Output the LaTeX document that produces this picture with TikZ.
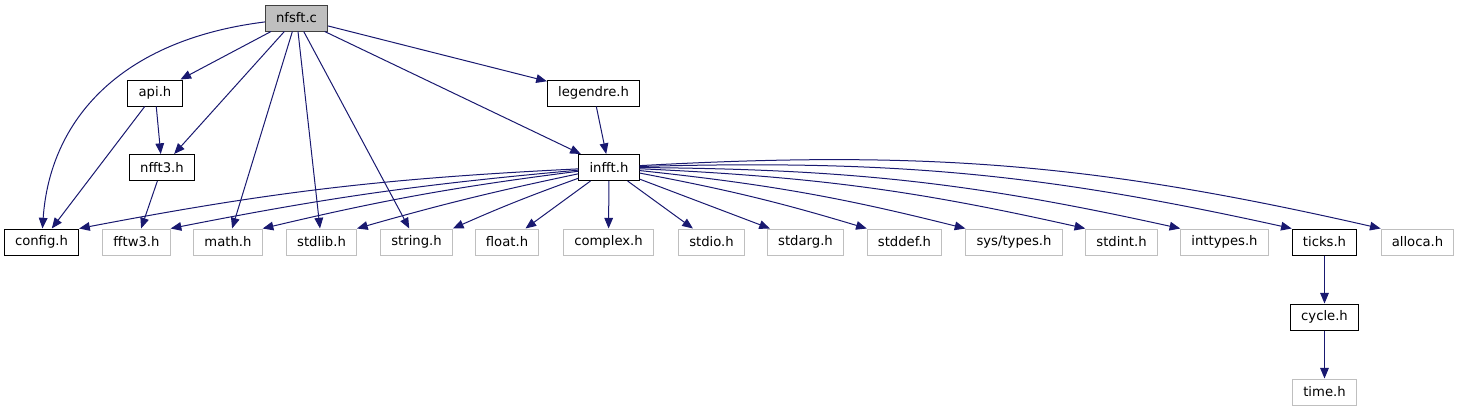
\documentclass[tikz,border=0pt]{standalone}
\usepackage{fontspec}
\setmainfont{DejaVu Sans}
\usetikzlibrary{arrows.meta}
\definecolor{Edge}{HTML}{191970}
\definecolor{Frame}{HTML}{BFBFBF}
\definecolor{Dark}{HTML}{404040}

\begin{document}
\begin{tikzpicture}[x=0.75pt,y=-0.75pt,
  hdr/.style={draw=black,fill=white,line width=0.75pt,minimum height=19.5pt,inner xsep=8pt,inner ysep=0pt,font=\fontsize{9.9}{11}\selectfont},
  sys/.style={hdr,draw=Frame},
  root/.style={hdr,draw=Dark,fill=Frame},
  inc/.style={-{Triangle[length=8pt,width=6.5pt]},color=Edge,line width=0.75pt}
]
\useasboundingbox (0,0) rectangle (1460,411);
% top levels
\node[root] (nfsft) at (296.5,18) {nfsft.c};
\node[hdr] (api) at (155,93) {api.h};
\node[hdr] (legendre) at (593.5,93) {legendre.h};
\node[hdr] (nfft3) at (162,167.5) {nfft3.h};
\node[hdr] (infft) at (609,167.5) {infft.h};
% bottom row
\node[hdr] (config) at (41.5,242) {config.h};
\node[sys] (fftw3) at (136.5,242) {fftw3.h};
\node[sys] (math) at (228,242) {math.h};
\node[sys] (stdlib) at (321.5,242) {stdlib.h};
\node[sys] (string) at (416.5,242) {string.h};
\node[sys] (float) at (507,242) {float.h};
\node[sys] (complex) at (608.5,242) {complex.h};
\node[sys] (stdio) at (711.5,242) {stdio.h};
\node[sys] (stdarg) at (805.5,242) {stdarg.h};
\node[sys] (stddef) at (904.5,242) {stddef.h};
\node[sys] (systypes) at (1014,242) {sys/types.h};
\node[sys] (stdint) at (1121.5,242) {stdint.h};
\node[sys] (inttypes) at (1224.5,242) {inttypes.h};
\node[hdr] (ticks) at (1324.5,242) {ticks.h};
\node[sys] (alloca) at (1417.5,242) {alloca.h};
\node[hdr] (cycle) at (1324.5,317) {cycle.h};
\node[sys] (time) at (1324.5,392) {time.h};
% includes of nfsft.c
\draw[inc] (nfsft) .. controls (120,40) and (50,120) .. (config);
\foreach \t in {api,nfft3,math,stdlib,string,legendre,infft}\draw[inc] (nfsft)--(\t);
\draw[inc] (api)--(config); \draw[inc] (api)--(nfft3);
\draw[inc] (nfft3)--(fftw3); \draw[inc] (legendre)--(infft);
% includes of infft.h
\draw[inc] (infft) to[bend right=4] (config.north east);
\draw[inc] (infft) to[bend right=3] (fftw3.north east);
\draw[inc] (infft) to[bend right=3] (math.north east);
\draw[inc] (infft) to[bend right=2] (stdlib.north east);
\draw[inc] (infft) to[bend right=2] (string.north east);
\foreach \t in {float,complex,stdio,stdarg}\draw[inc] (infft)--(\t);
\draw[inc] (infft) to[bend left=3] (stddef.north west);
\draw[inc] (infft) to[bend left=4] (systypes.north west);
\draw[inc] (infft) to[bend left=5] (stdint.north west);
\draw[inc] (infft) to[bend left=6] (inttypes.north west);
\draw[inc] (infft) to[bend left=7] (ticks.north west);
\draw[inc] (infft) to[bend left=8] (alloca.north west);
\draw[inc] (ticks)--(cycle); \draw[inc] (cycle)--(time);
\end{tikzpicture}
\end{document}
